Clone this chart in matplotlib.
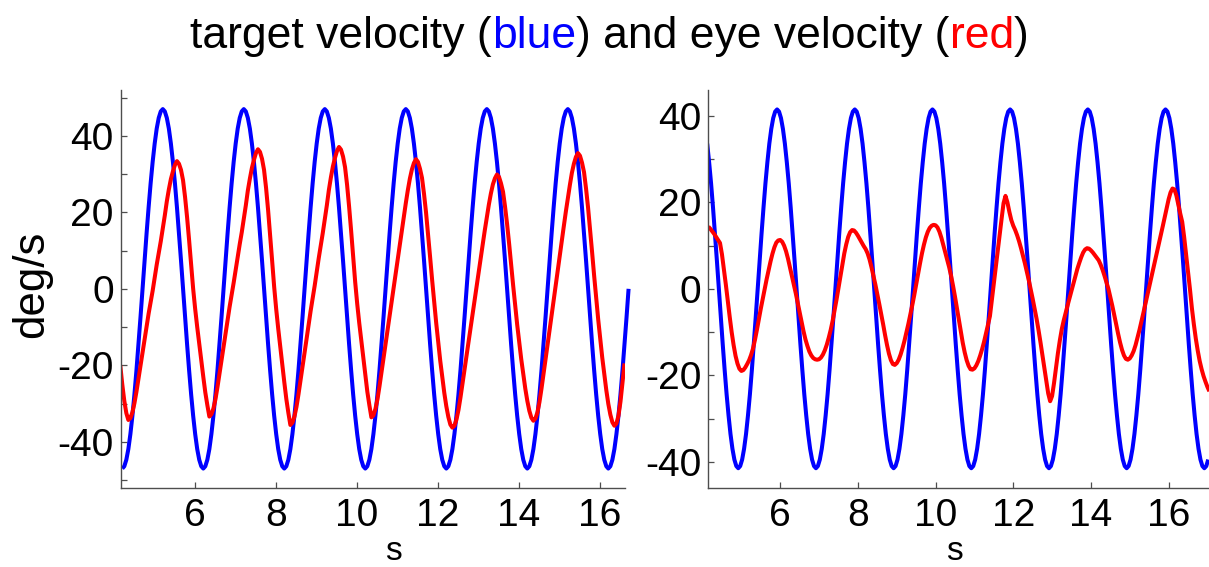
import numpy as np
import matplotlib
matplotlib.use("Agg")
import matplotlib.pyplot as plt
from matplotlib.ticker import MultipleLocator, FixedLocator

plt.rcParams["font.family"] = ["Liberation Sans", "DejaVu Sans"]
plt.rcParams["axes.unicode_minus"] = False

sample_dt = 0.05

left_blue_start = 4.21
left_blue = [
    -47, -46.4, -44.7, -41.9, -38.0, -33.2, -27.6, -21.3, -14.5, -7.4, 0, 7.4, 14.5, 21.3, 27.6, 33.2, 38.0, 41.9, 44.7, 46.4,
    47, 46.4, 44.7, 41.9, 38.0, 33.2, 27.6, 21.3, 14.5, 7.4, 0, -7.4, -14.5, -21.3, -27.6, -33.2, -38.0, -41.9, -44.7, -46.4,
    -47, -46.4, -44.7, -41.9, -38.0, -33.2, -27.6, -21.3, -14.5, -7.4, 0, 7.4, 14.5, 21.3, 27.6, 33.2, 38.0, 41.9, 44.7, 46.4,
    47, 46.4, 44.7, 41.9, 38.0, 33.2, 27.6, 21.3, 14.5, 7.4, 0, -7.4, -14.5, -21.3, -27.6, -33.2, -38.0, -41.9, -44.7, -46.4,
    -47, -46.4, -44.7, -41.9, -38.0, -33.2, -27.6, -21.3, -14.5, -7.4, 0, 7.4, 14.5, 21.3, 27.6, 33.2, 38.0, 41.9, 44.7, 46.4,
    47, 46.4, 44.7, 41.9, 38.0, 33.2, 27.6, 21.3, 14.5, 7.4, 0, -7.4, -14.5, -21.3, -27.6, -33.2, -38.0, -41.9, -44.7, -46.4,
    -47, -46.4, -44.7, -41.9, -38.0, -33.2, -27.6, -21.3, -14.5, -7.4, 0, 7.4, 14.5, 21.3, 27.6, 33.2, 38.0, 41.9, 44.7, 46.4,
    47, 46.4, 44.7, 41.9, 38.0, 33.2, 27.6, 21.3, 14.5, 7.4, 0, -7.4, -14.5, -21.3, -27.6, -33.2, -38.0, -41.9, -44.7, -46.4,
    -47, -46.4, -44.7, -41.9, -38.0, -33.2, -27.6, -21.3, -14.5, -7.4, 0, 7.4, 14.5, 21.3, 27.6, 33.2, 38.0, 41.9, 44.7, 46.4,
    47, 46.4, 44.7, 41.9, 38.0, 33.2, 27.6, 21.3, 14.5, 7.4, 0, -7.4, -14.5, -21.3, -27.6, -33.2, -38.0, -41.9, -44.7, -46.4,
    -47, -46.4, -44.7, -41.9, -38.0, -33.2, -27.6, -21.3, -14.5, -7.4, 0, 7.4, 14.5, 21.3, 27.6, 33.2, 38.0, 41.9, 44.7, 46.4,
    47, 46.4, 44.7, 41.9, 38.0, 33.2, 27.6, 21.3, 14.5, 7.4, 0, -7.4, -14.5, -21.3, -27.6, -33.2, -38.0, -41.9, -44.7, -46.4,
    -47, -46.4, -44.7, -41.9, -38.0, -33.2, -27.6, -21.3, -14.5, -7.4, 0,
]

left_red_start = 4.16
left_red = [
    -20.0, -25.0, -29.3, -32.5,
    -34.3, -33.8, -32.3, -29.9, -26.9, -23.5, -20.1, -16.7, -13.3, -9.9, -6.5, -3.5, -0.5,
    2.9, 6.3, 9.4, 12.4, 15.8, 19.2, 22.9, 26.0, 28.7, 30.7, 32.4, 33.4,
    32.7, 31.1, 28.4, 24.0, 18.7, 12.7, 6.3, 0.0, -5.3, -10.0, -14.4, -18.7, -23.0, -27.1, -30.4, -33.4,
    -32.8, -31.3, -28.9, -25.7, -22.2, -18.7, -15.2, -11.7, -8.2, -4.7, -1.6, 1.6,
    5.0, 8.5, 11.7, 14.8, 18.3, 21.8, 25.7, 28.8, 31.6, 33.7, 35.5, 36.5,
    35.8, 34.0, 31.1, 26.4, 20.6, 14.1, 7.3, 0.5, -5.3, -10.4, -15.1, -19.7, -24.4, -28.8, -32.4, -35.6,
    -35.0, -33.4, -30.9, -27.6, -24.0, -20.3, -16.7, -13.1, -9.4, -5.8, -2.5, 0.8,
    4.4, 8.0, 11.3, 14.6, 18.2, 21.8, 25.8, 29.1, 32.0, 34.2, 36.0, 37.1,
    36.4, 34.6, 31.8, 27.2, 21.5, 15.2, 8.5, 1.8, -3.9, -8.9, -13.4, -18.0, -22.6, -26.9, -30.4, -33.6,
    -33.1, -31.4, -28.9, -25.5, -21.8, -18.1, -14.4, -10.7, -6.9, -3.2, 0.5,
    4.2, 7.9, 11.6, 15.3, 19.1, 22.4, 25.8, 28.8, 31.2, 32.9, 33.9,
    33.2, 31.4, 29.0, 24.8, 19.9, 14.2, 8.3, 2.3, -3.3,
    -8.9, -13.8, -18.8, -23.0, -27.2, -30.7, -33.5, -35.5, -36.3,
    -35.8, -34.2, -31.7, -28.4, -24.7, -21.1, -17.4, -13.8, -10.2, -6.5, -2.9,
    0.8, 4.4, 8.1, 11.7, 15.3, 18.6, 22.0, 24.9, 27.3, 28.9, 29.9,
    29.3, 27.6, 25.4, 21.5, 17.0, 11.9, 6.4, 0.9, -4.2,
    -9.4, -13.9, -18.4, -22.3, -26.1, -29.3, -31.9, -33.7, -34.5,
    -33.9, -32.3, -29.6, -26.1, -22.3, -18.4, -14.5, -10.7, -6.9, -3.0, 0.9,
    4.7, 8.6, 12.4, 16.3, 20.1, 23.6, 27.1, 30.3, 32.7, 34.5, 35.5,
    34.8, 33.0, 30.5, 26.2, 21.2, 15.5, 9.5, 3.4, -2.3,
    -8.0, -13.0, -18.0, -22.3, -26.5, -30.1, -32.9, -34.9, -35.8,
    -35.2, -33.2, -29.5, -24.5, -19.5,
]

right_blue_start = 4.12
right_blue = [
    33.6, 29.3, 24.4, 18.8, 12.8, 6.5, 0, -6.5, -12.8, -18.8, -24.4, -29.3, -33.6, -37.0, -39.5, -41.0, -41.5, -41.0, -39.5, -37.0,
    -33.6, -29.3, -24.4, -18.8, -12.8, -6.5, 0, 6.5, 12.8, 18.8, 24.4, 29.3, 33.6, 37.0, 39.5, 41.0, 41.5, 41.0, 39.5, 37.0,
    33.6, 29.3, 24.4, 18.8, 12.8, 6.5, 0, -6.5, -12.8, -18.8, -24.4, -29.3, -33.6, -37.0, -39.5, -41.0, -41.5, -41.0, -39.5, -37.0,
    -33.6, -29.3, -24.4, -18.8, -12.8, -6.5, 0, 6.5, 12.8, 18.8, 24.4, 29.3, 33.6, 37.0, 39.5, 41.0, 41.5, 41.0, 39.5, 37.0,
    33.6, 29.3, 24.4, 18.8, 12.8, 6.5, 0, -6.5, -12.8, -18.8, -24.4, -29.3, -33.6, -37.0, -39.5, -41.0, -41.5, -41.0, -39.5, -37.0,
    -33.6, -29.3, -24.4, -18.8, -12.8, -6.5, 0, 6.5, 12.8, 18.8, 24.4, 29.3, 33.6, 37.0, 39.5, 41.0, 41.5, 41.0, 39.5, 37.0,
    33.6, 29.3, 24.4, 18.8, 12.8, 6.5, 0, -6.5, -12.8, -18.8, -24.4, -29.3, -33.6, -37.0, -39.5, -41.0, -41.5, -41.0, -39.5, -37.0,
    -33.6, -29.3, -24.4, -18.8, -12.8, -6.5, 0, 6.5, 12.8, 18.8, 24.4, 29.3, 33.6, 37.0, 39.5, 41.0, 41.5, 41.0, 39.5, 37.0,
    33.6, 29.3, 24.4, 18.8, 12.8, 6.5, 0, -6.5, -12.8, -18.8, -24.4, -29.3, -33.6, -37.0, -39.5, -41.0, -41.5, -41.0, -39.5, -37.0,
    -33.6, -29.3, -24.4, -18.8, -12.8, -6.5, 0, 6.5, 12.8, 18.8, 24.4, 29.3, 33.6, 37.0, 39.5, 41.0, 41.5, 41.0, 39.5, 37.0,
    33.6, 29.3, 24.4, 18.8, 12.8, 6.5, 0, -6.5, -12.8, -18.8, -24.4, -29.3, -33.6, -37.0, -39.5, -41.0, -41.5, -41.0, -39.5, -37.0,
    -33.6, -29.3, -24.4, -18.8, -12.8, -6.5, 0, 6.5, 12.8, 18.8, 24.4, 29.3, 33.6, 37.0, 39.5, 41.0, 41.5, 41.0, 39.5, 37.0,
    33.6, 29.3, 24.4, 18.8, 12.8, 6.5, 0, -6.5, -12.8, -18.8, -24.4, -29.3, -33.6, -37.0, -39.5, -41.0, -41.5, -41.0, -39.5,
]

right_red_start = 4.15
right_red = [
    14.4, 13.9, 13.3, 12.7, 12.0, 11.3, 10.6, 8.0, 4.5, 1.0, -2.8, -6.5, -10.0, -13.0, -15.5, -17.3, -18.5, -19.0, -18.8, -18.2,
    -17.4, -16.5, -15.3, -13.8, -11.8, -9.5, -7.0, -4.6, -2.3, 0.0, 2.2, 4.3, 6.3, 8.1, 9.6, 10.7, 11.2, 11.3, 10.9, 10.0,
    8.7, 7.0, 5.0, 3.0, 1.0, -1.0, -3.2, -5.5, -7.7, -9.8, -11.7, -13.2, -14.5, -15.4, -16.0, -16.3, -16.4, -16.3, -15.9, -15.2,
    -14.2, -12.9, -11.3, -9.5, -7.4, -5.0, -2.5, 0.2, 3.0, 5.7, 8.2, 10.3, 12.0, 13.1, 13.6, 13.5, 13.0, 12.3, 11.5, 10.7,
    9.9, 9.2, 8.2, 6.8, 5.0, 3.0, 1.0, -1.2, -3.5, -5.8, -8.2, -10.7, -13.0, -15.0, -16.5, -17.4, -17.6, -17.2, -16.4, -15.2,
    -13.7, -12.0, -10.1, -8.1, -6.0, -3.8, -1.5, 1.0, 3.5, 5.9, 8.2, 10.2, 11.9, 13.2, 14.1, 14.6, 14.8, 14.7, 14.2, 13.2,
    11.8, 10.1, 8.3, 6.6, 5.0, 3.0, 0.7, -1.8, -4.5, -7.2, -9.9, -12.5, -14.7, -16.5, -17.8, -18.6, -18.7, -18.4, -17.7, -16.7,
    -15.4, -13.9, -12.2, -10.3, -8.3, -6.3, -2.6, 1.2, 5.0, 8.8, 12.5, 16.2, 19.8, 21.5, 20.0, 17.8, 15.9, 14.6, 13.6, 12.4,
    11.0, 9.4, 7.7, 5.9, 4.0, 2.0, -0.1, -2.3, -4.6, -6.9, -9.5, -12.3, -15.3, -18.4, -21.4, -24.2, -26.0, -24.8, -21.8, -18.4,
    -14.9, -11.9, -9.3, -7.3, -5.5, -3.8, -2.1, -0.4, 1.3, 3.0, 4.6, 6.0, 7.3, 8.4, 9.1, 9.4, 9.3, 8.9, 8.4, 7.8,
    7.2, 6.6, 5.6, 4.4, 3.0, 1.5, 0.0, -1.9, -3.9, -6.0, -8.2, -10.4, -12.4, -14.1, -15.4, -16.2, -16.4, -16.1, -15.4, -14.4,
    -13.0, -11.3, -9.5, -7.6, -5.6, -3.6, -1.6, 0.4, 2.4, 4.4, 6.4, 8.4, 10.4, 12.4, 14.5, 16.6, 18.7, 20.7, 22.3, 23.2,
    23.0, 21.6, 19.5, 17.4, 15.5, 12.0, 8.0, 3.9, -0.1, -4.5, -8.2, -11.5, -14.3, -16.7, -18.6, -20.2, -21.5, -22.7, -23.7,
]

x_ticks = [6, 8, 10, 12, 14, 16]
title_parts = ["target velocity (", "blue", ") and eye velocity (", "red", ")"]
title_colors = ["black", "blue", "black", "red", "black"]


def times(start, values):
    return np.round(start + sample_dt * np.arange(len(values)), 3)


def style_axes(ax, xlim, ylim):
    ax.set_xlim(*xlim)
    ax.set_ylim(*ylim)
    for side in ("top", "right"):
        ax.spines[side].set_visible(False)
    for side in ("left", "bottom"):
        ax.spines[side].set_color("#4d4d4d")
        ax.spines[side].set_linewidth(1.0)
    ax.xaxis.set_major_locator(FixedLocator(x_ticks))
    ax.yaxis.set_major_locator(MultipleLocator(20))
    ax.yaxis.set_minor_locator(MultipleLocator(10))
    ax.tick_params(which="both", direction="in", length=4, width=0.9,
                   color="#4d4d4d", labelsize=28)
    ax.tick_params(axis="y", pad=5.0)
    ax.tick_params(axis="x", pad=7.5)
    ax.patch.set_visible(False)


line_kw = dict(lw=2.9, solid_joinstyle="round", solid_capstyle="butt")

fig = plt.figure(figsize=(12.09, 5.67), dpi=100)
ax1 = fig.add_axes([0.0998, 0.1399, 0.4171, 0.7014])
ax2 = fig.add_axes([0.5859, 0.1399, 0.4141, 0.7014])

ax1.plot(times(left_blue_start, left_blue), left_blue, color="blue",
         clip_on=False, **line_kw)
ax1.plot(times(left_red_start, left_red), left_red, color="red", **line_kw)
style_axes(ax1, (4.17, 16.62), (-52, 52))

ax2.plot(times(right_blue_start, right_blue), right_blue, color="blue", **line_kw)
ax2.plot(times(right_red_start, right_red), right_red, color="red", **line_kw)
style_axes(ax2, (4.15, 17.04), (-46, 46))

W, H = 1209, 567
fig.text(31.5 / W, 1 - 284 / H, "deg/s", rotation=90, ha="center", va="center",
         fontsize=31.5)
fig.text(393 / W, 0.5 / H, "s", ha="center", va="bottom", fontsize=24)
fig.text(954 / W, 0.5 / H, "s", ha="center", va="bottom", fontsize=24)

# multi-coloured title, laid out piece by piece
fig.canvas.draw()
renderer = fig.canvas.get_renderer()
pieces = []
x = 0.0
for part, col in zip(title_parts, title_colors):
    t = fig.text(x, 1 - 48.3 / H, part, color=col, fontsize=32,
                 ha="left", va="baseline")
    bb = t.get_window_extent(renderer)
    pieces.append(t)
    x = bb.x1 / fig.bbox.width
shift = 609.5 / W - x / 2
for t in pieces:
    px, py = t.get_position()
    t.set_position((px + shift, py))

fig.savefig("out.png", dpi=100)
